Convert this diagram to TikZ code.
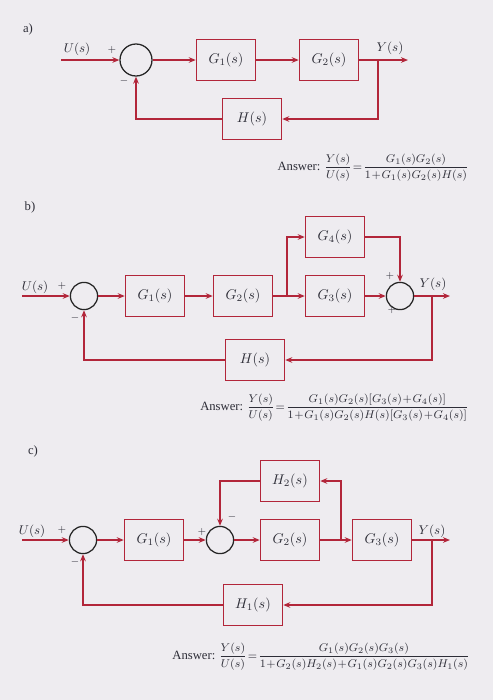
\documentclass[tikz,border=0pt]{standalone}
\usepackage{amsmath}
\usepackage{fontspec}
\setmainfont{Liberation Serif}
\usetikzlibrary{arrows.meta}
\definecolor{linered}{RGB}{178,38,58}
\definecolor{inkgray}{RGB}{45,45,55}
\definecolor{paper}{RGB}{238,236,240}
\newcommand\tightmath{\medmuskip=1mu\relax\thickmuskip=1.5mu\relax}
\begin{document}
\begin{tikzpicture}[x=0.025cm,y=-0.025cm,
  block/.style={draw=linered,line width=0.9pt,minimum width=1.48cm,minimum height=1.03cm,inner sep=0pt,text=inkgray},
  sumnode/.style={circle,draw=black!85,line width=0.9pt,minimum size=0.68cm,inner sep=0pt},
  sig/.style={draw=linered,line width=1pt,-{Stealth[length=5pt,width=4pt]}},
  lbl/.style={text=inkgray,font=\small,inner sep=1pt},
  sign/.style={text=inkgray,font=\scriptsize,inner sep=0pt},
  answer/.style={text=inkgray,font=\footnotesize,anchor=east,inner sep=0pt}]
\useasboundingbox[fill=paper] (0,0) rectangle (493,700);
% a)
\node[lbl] (alabel) at (28,29) {a)};
\node[sumnode,minimum size=0.8cm] (as1) at (136,60) {};
\node[block] (ag1) at (226,60) {$G_1(s)$};
\node[block] (ag2) at (329,60) {$G_2(s)$};
\node[block] (ah) at (252,119) {$H(s)$};
\coordinate (ain) at (61,60);
\coordinate (aout) at (408,60);
\coordinate (abr) at (378,60);
\draw[sig] (ain) -- (as1);
\draw[sig] (as1) -- (ag1);
\draw[sig] (ag1) -- (ag2);
\draw[sig] (ag2) -- (aout);
\draw[sig] (abr) |- (ah);
\draw[sig] (ah) -| (as1);
\node[lbl] (au) at (77,49) {$U(s)$};
\node[lbl] (ay) at (390,48) {$Y(s)$};
\node[sign] (aplus) at (112,50) {$+$};
\node[sign] (aminus) at (124,81) {$-$};
\node[answer] (aans) at (469,168) {{\small Answer:} $\tightmath\dfrac{Y(s)}{U(s)}=\dfrac{G_1(s)G_2(s)}{1+G_1(s)G_2(s)H(s)}$};
% b)
\node[lbl] (blabel) at (30,207) {b)};
\node[sumnode] (bs1) at (84,296) {};
\node[block] (bg1) at (155,296) {$G_1(s)$};
\node[block] (bg2) at (243,296) {$G_2(s)$};
\node[block] (bg3) at (335,296) {$G_3(s)$};
\node[block] (bg4) at (335,237) {$G_4(s)$};
\node[sumnode] (bs2) at (400,296) {};
\node[block] (bh) at (255,360) {$H(s)$};
\coordinate (bin) at (22,296);
\coordinate (bout) at (450,296);
\coordinate (bbr1) at (287,296);
\coordinate (bbr2) at (432,296);
\draw[sig] (bin) -- (bs1);
\draw[sig] (bs1) -- (bg1);
\draw[sig] (bg1) -- (bg2);
\draw[sig] (bg2) -- (bg3);
\draw[sig] (bbr1) |- (bg4);
\draw[sig] (bg4) -| (bs2);
\draw[sig] (bg3) -- (bs2);
\draw[sig] (bs2) -- (bout);
\draw[sig] (bbr2) |- (bh);
\draw[sig] (bh) -| (bs1);
\node[lbl] (bu) at (35,287) {$U(s)$};
\node[lbl] (by) at (433,284) {$Y(s)$};
\node[sign] (bplus1) at (62,286) {$+$};
\node[sign] (bminus) at (75,318) {$-$};
\node[sign] (bplus2) at (390,276) {$+$};
\node[sign] (bplus3) at (392,310) {$+$};
\node[answer] (bans) at (469,408) {{\small Answer:} $\tightmath\dfrac{Y(s)}{U(s)}=\dfrac{G_1(s)G_2(s)[G_3(s)+G_4(s)]}{1+G_1(s)G_2(s)H(s)[G_3(s)+G_4(s)]}$};
% c)
\node[lbl] (clabel) at (33,451) {c)};
\node[sumnode] (cs1) at (83,540) {};
\node[block] (cg1) at (154,540) {$G_1(s)$};
\node[sumnode] (cs2) at (220,540) {};
\node[block] (cg2) at (290,540) {$G_2(s)$};
\node[block] (ch2) at (290,481) {$H_2(s)$};
\node[block] (cg3) at (382,540) {$G_3(s)$};
\node[block] (ch1) at (253,605) {$H_1(s)$};
\coordinate (cin) at (22,540);
\coordinate (cout) at (450,540);
\coordinate (cbr1) at (341,540);
\coordinate (cbr2) at (432,540);
\draw[sig] (cin) -- (cs1);
\draw[sig] (cs1) -- (cg1);
\draw[sig] (cg1) -- (cs2);
\draw[sig] (cs2) -- (cg2);
\draw[sig] (cg2) -- (cg3);
\draw[sig] (cbr1) |- (ch2);
\draw[sig] (ch2) -| (cs2);
\draw[sig] (cg3) -- (cout);
\draw[sig] (cbr2) |- (ch1);
\draw[sig] (ch1) -| (cs1);
\node[lbl] (cu) at (32,531) {$U(s)$};
\node[lbl] (cy) at (432,531) {$Y(s)$};
\node[sign] (cplus1) at (62,530) {$+$};
\node[sign] (cminus1) at (75,562) {$-$};
\node[sign] (cplus2) at (202,532) {$+$};
\node[sign] (cminus2) at (232,517) {$-$};
\node[answer] (cans) at (470,657) {{\small Answer:} $\tightmath\dfrac{Y(s)}{U(s)}=\dfrac{G_1(s)G_2(s)G_3(s)}{1+G_2(s)H_2(s)+G_1(s)G_2(s)G_3(s)H_1(s)}$};
\end{tikzpicture}
\end{document}
